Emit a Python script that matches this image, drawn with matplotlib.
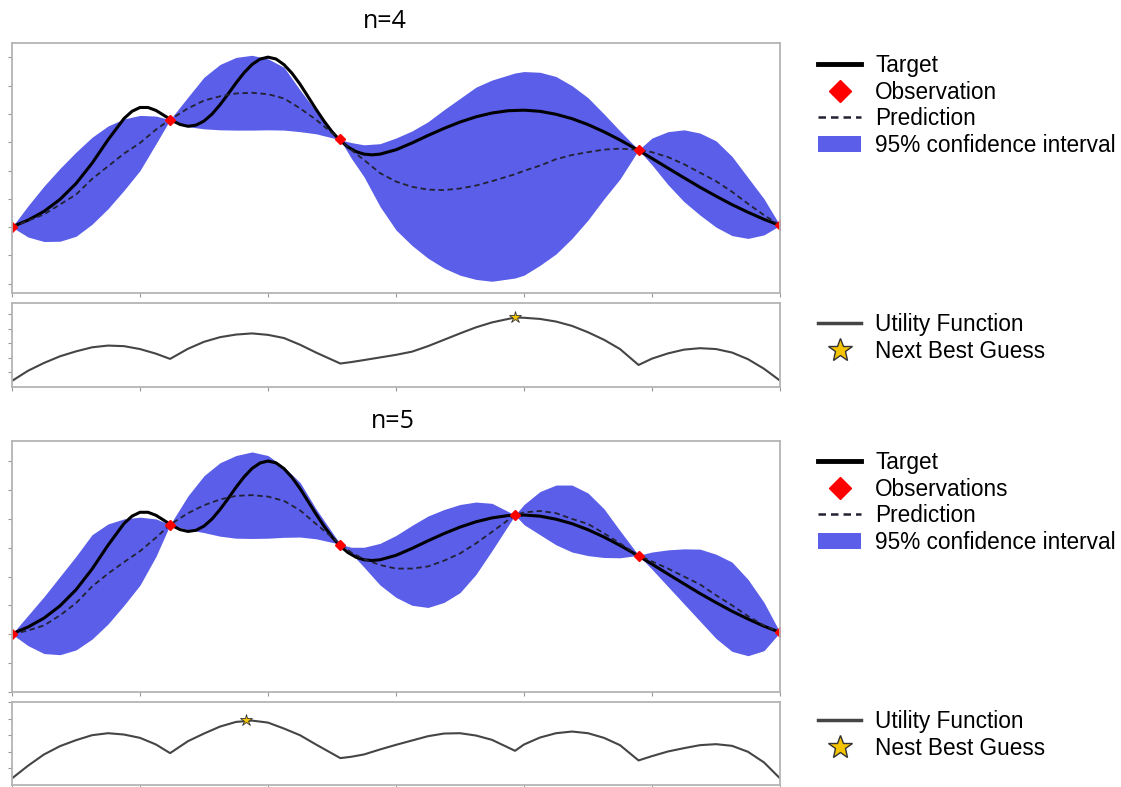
import numpy as np
import matplotlib
matplotlib.use("Agg")
import matplotlib.pyplot as plt
from matplotlib.lines import Line2D
from matplotlib.patches import Patch

# target function
target_x = [-2, -1.75, -1.5, -1.25, -1, -0.75, -0.5, -0.25, -0.125, 0, 0.125, 0.25,
            0.375, 0.5, 0.625, 0.75, 0.875, 1, 1.125, 1.25, 1.375, 1.5, 1.625, 1.75,
            1.875, 2, 2.125, 2.25, 2.375, 2.5, 2.625, 2.75, 2.875, 3, 3.125, 3.25,
            3.375, 3.5, 3.625, 3.75, 4, 4.25, 4.5, 4.75, 5, 5.25, 5.5, 5.75, 6, 6.25,
            6.5, 6.75, 7, 7.25, 7.5, 7.75, 8, 8.25, 8.5, 8.75, 9, 9.25, 9.5, 9.75, 10]
target_y = [0.202, 0.249, 0.311, 0.396, 0.508, 0.651, 0.817, 0.968, 1.019, 1.046, 1.046, 1.025,
            0.990, 0.954, 0.926, 0.913, 0.921, 0.950, 0.999, 1.065, 1.140, 1.219, 1.291, 1.350,
            1.388, 1.402, 1.389, 1.349, 1.288, 1.211, 1.123, 1.034, 0.950, 0.875, 0.813, 0.766,
            0.734, 0.716, 0.711, 0.716, 0.747, 0.795, 0.848, 0.898, 0.943, 0.980, 1.007, 1.023, 1.027, 1.019,
            0.998, 0.967, 0.925, 0.874, 0.816, 0.753, 0.686, 0.617, 0.549, 0.482, 0.419, 0.359, 0.305, 0.255, 0.212]

# x positions where the GP curves were read
x_grid = [-2, -1.75, -1.5, -1.25, -1, -0.75, -0.5, -0.25, 0, 0.25, 0.47,
          0.75, 1, 1.25, 1.5, 1.75, 2, 2.25, 2.5, 2.75, 3.13, 3.3,
          3.5, 3.75, 4, 4.25, 4.5, 4.75, 5, 5.25, 5.5, 5.86,
          6, 6.25, 6.5, 6.75, 7, 7.25, 7.5, 7.79,
          8, 8.25, 8.5, 8.75, 9, 9.25, 9.5, 9.75, 10]

# n=4
obs4_x = [-2, 0.47, 3.13, 7.79, 10]
obs4_y = [0.20, 0.96, 0.82, 0.745, 0.212]
mean4 = [0.20, 0.245, 0.29, 0.36, 0.43, 0.54, 0.63, 0.72, 0.795, 0.89, 0.96,
         1.04, 1.095, 1.125, 1.145, 1.15, 1.14, 1.11, 1.04, 0.96, 0.817, 0.746,
         0.675, 0.582, 0.522, 0.485, 0.465, 0.462, 0.473, 0.494, 0.525, 0.574,
         0.598, 0.635, 0.68, 0.71, 0.73, 0.748, 0.755, 0.746,
         0.73, 0.695, 0.645, 0.585, 0.525, 0.45, 0.365, 0.285, 0.212]
upper4 = [0.20, 0.35, 0.49, 0.615, 0.73, 0.835, 0.915, 0.965, 0.99, 0.985, 0.96,
          1.12, 1.26, 1.35, 1.40, 1.415, 1.39, 1.33, 1.17, 1.02, 0.817, 0.798,
          0.782, 0.79, 0.83, 0.88, 0.945, 1.03, 1.11, 1.19, 1.24, 1.29,
          1.30, 1.295, 1.265, 1.20, 1.115, 1.00, 0.88, 0.746,
          0.83, 0.875, 0.888, 0.865, 0.81, 0.70, 0.55, 0.40, 0.212]
lower4 = [0.20, 0.13, 0.098, 0.10, 0.135, 0.22, 0.33, 0.46, 0.60, 0.79, 0.96,
          0.91, 0.895, 0.888, 0.886, 0.886, 0.888, 0.886, 0.875, 0.86, 0.817, 0.688,
          0.556, 0.346, 0.18, 0.07, -0.02, -0.09, -0.14, -0.17, -0.183, -0.16,
          -0.14, -0.07, 0.01, 0.12, 0.25, 0.40, 0.54, 0.746,
          0.64, 0.50, 0.38, 0.285, 0.20, 0.14, 0.12, 0.145, 0.212]
util4 = [0.20, 0.55, 0.82, 1.05, 1.22, 1.36, 1.42, 1.40, 1.30, 1.14, 0.96,
         1.31, 1.55, 1.71, 1.80, 1.84, 1.79, 1.68, 1.45, 1.18, 0.80, 0.85,
         0.92, 1.01, 1.10, 1.21, 1.40, 1.62, 1.84, 2.05, 2.22, 2.39,
         2.38, 2.34, 2.25, 2.10, 1.88, 1.62, 1.30, 0.75,
         0.97, 1.15, 1.28, 1.33, 1.30, 1.18, 0.95, 0.62, 0.21]
best4 = (5.86, 2.39)

# n=5
obs5_x = [-2, 0.47, 3.13, 5.86, 7.79, 10]
obs5_y = [0.20, 0.96, 0.82, 1.027, 0.745, 0.212]
mean5 = [0.20, 0.225, 0.26, 0.33, 0.415, 0.53, 0.62, 0.70, 0.776, 0.87, 0.96,
         1.04, 1.095, 1.135, 1.16, 1.165, 1.155, 1.125, 1.06, 0.965, 0.824, 0.767,
         0.72, 0.68, 0.655, 0.655, 0.67, 0.71, 0.76, 0.83, 0.91, 1.027,
         1.045, 1.055, 1.04, 1.00, 0.965, 0.90, 0.83, 0.747,
         0.705, 0.655, 0.60, 0.545, 0.47, 0.40, 0.325, 0.26, 0.212]
upper5 = [0.20, 0.33, 0.46, 0.60, 0.74, 0.89, 0.965, 1.00, 1.012, 1.00, 0.96,
          1.16, 1.30, 1.39, 1.44, 1.465, 1.44, 1.36, 1.254, 1.07, 0.824, 0.803,
          0.803, 0.83, 0.885, 0.955, 1.02, 1.065, 1.10, 1.117, 1.108, 1.027,
          1.10, 1.19, 1.235, 1.235, 1.18, 1.07, 0.918, 0.747,
          0.77, 0.785, 0.792, 0.79, 0.755, 0.70, 0.58, 0.42, 0.212]
lower5 = [0.20, 0.12, 0.065, 0.057, 0.09, 0.165, 0.27, 0.40, 0.54, 0.74, 0.96,
          0.925, 0.905, 0.88, 0.866, 0.864, 0.866, 0.872, 0.874, 0.862, 0.824, 0.761,
          0.665, 0.541, 0.455, 0.40, 0.385, 0.42, 0.488, 0.615, 0.78, 1.027,
          0.96, 0.89, 0.82, 0.77, 0.745, 0.732, 0.73, 0.747,
          0.65, 0.53, 0.41, 0.29, 0.17, 0.08, 0.05, 0.085, 0.212]
util5 = [0.20, 0.58, 0.92, 1.17, 1.35, 1.50, 1.56, 1.52, 1.42, 1.22, 0.96,
         1.32, 1.55, 1.76, 1.90, 1.94, 1.88, 1.70, 1.50, 1.22, 0.81, 0.85,
         0.92, 1.07, 1.21, 1.34, 1.47, 1.55, 1.56, 1.49, 1.36, 1.03,
         1.22, 1.43, 1.56, 1.61, 1.56, 1.42, 1.20, 0.74,
         0.87, 1.01, 1.11, 1.20, 1.23, 1.18, 1.00, 0.68, 0.20]
best5 = (1.66, 1.945)

BAND = '#5a5ee8'
SPINE = '#b4b4b4'
UTIL = '#454545'
STAR = '#f5c400'

W, H = 1121, 787
fig = plt.figure(figsize=(W / 100, H / 100), dpi=100)


def box(l, t, r, b):
    # pixel box -> figure fraction
    return [l / W, 1 - b / H, (r - l) / W, (b - t) / H]


def style(ax, yt):
    for s in ax.spines.values():
        s.set_color(SPINE)
        s.set_linewidth(1.3)
    ax.set_xlim(-2, 10)
    ax.set_xticks(np.arange(-2, 10.1, 2))
    ax.set_yticks(yt)
    ax.tick_params(direction='out', length=3, width=0.8, color='#999999',
                   labelleft=False, labelbottom=False)


def main_plot(ax, mean, upper, lower, ox, oy, ylim):
    ax.fill_between(x_grid, lower, upper, color=BAND, lw=0)
    ax.plot(target_x, target_y, color='black', lw=2.2)
    ax.plot(x_grid, mean, color='#222233', ls=(0, (3, 2)), lw=1.3)
    ax.plot(ox, oy, 'D', color='red', ms=5, mec='red')
    ax.set_ylim(*ylim)
    style(ax, np.arange(-0.2, 1.41, 0.2))


def util_plot(ax, util, best):
    ax.plot(x_grid, util, color=UTIL, lw=1.5)
    ax.plot(best[0], best[1], '*', ms=9, mfc=STAR, mec='#333333', mew=0.6)
    ax.set_ylim(0, max(util) + 0.5)
    style(ax, [0.5, 1, 1.5, 2, 2.5])


ax1 = fig.add_axes(box(12, 43, 780, 293))
main_plot(ax1, mean4, upper4, lower4, obs4_x, obs4_y, (-0.266, 1.502))
ax2 = fig.add_axes(box(12, 303, 780, 386.7))
util_plot(ax2, util4, best4)
ax3 = fig.add_axes(box(12, 441, 780, 691.7))
main_plot(ax3, mean5, upper5, lower5, obs5_x, obs5_y, (-0.036, 1.541))
ax4 = fig.add_axes(box(12, 702, 780, 785))
util_plot(ax4, util5, best5)

fig.text(385 / W, 1 - 22 / H, 'n=4', ha='center', va='center', fontsize=18, family='Open Sans')
fig.text(393 / W, 1 - 422 / H, 'n=5', ha='center', va='center', fontsize=18, family='Open Sans')

lfont = {'family': 'Liberation Sans', 'size': 16.3}


def gp_legend(top, obs_label):
    h = [Line2D([], [], color='black', lw=3.5),
         Line2D([], [], marker='D', color='red', ls='none', ms=11),
         Line2D([], [], color='#222233', ls=(0, (3, 2)), lw=1.8),
         Patch(facecolor=BAND, edgecolor='none')]
    lab = ['Target', obs_label, 'Prediction', '95% confidence interval']
    fig.legend(h, lab, loc='upper left', bbox_to_anchor=(818 / W, 1 - top / H),
               frameon=False, prop=lfont, borderpad=0, borderaxespad=0,
               labelspacing=0.16, handlelength=1.9, handletextpad=0.62)


def util_legend(top, star_label):
    h = [Line2D([], [], color=UTIL, lw=2.5),
         Line2D([], [], marker='*', ls='none', ms=18, mfc=STAR, mec='#333333', mew=1)]
    fig.legend(h, ['Utility Function', star_label], loc='upper left',
               bbox_to_anchor=(818 / W, 1 - top / H), frameon=False, prop=lfont,
               borderpad=0, borderaxespad=0, labelspacing=0.16, handlelength=1.9,
               handletextpad=0.62)


gp_legend(54, 'Observation')
util_legend(313, 'Next Best Guess')
gp_legend(451, 'Observations')
util_legend(710, 'Nest Best Guess')

fig.savefig('out.png', dpi=100)
